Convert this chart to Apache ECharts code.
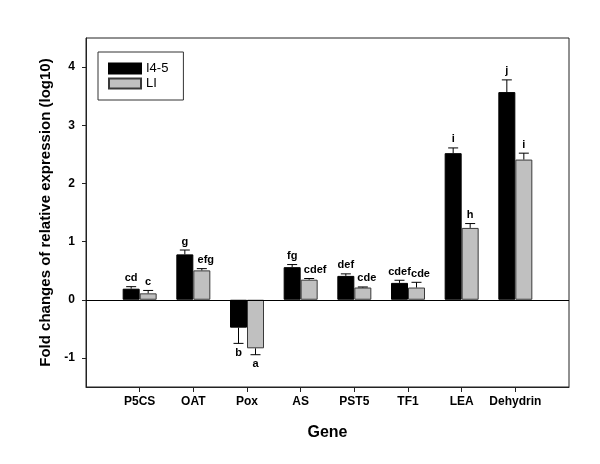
<!DOCTYPE html>
<html>
<head>
<meta charset="utf-8">
<script src="https://cdn.jsdelivr.net/npm/echarts@6/dist/echarts.min.js"></script>
<style>html,body{margin:0;padding:0;background:#fff}#c{width:600px;height:464px}</style>
</head>
<body>
<div id="c"></div>
<script>
const categories = ['P5CS', 'OAT', 'Pox', 'AS', 'PST5', 'TF1', 'LEA', 'Dehydrin'];
const i45 = [0.19, 0.78, -0.48, 0.56, 0.41, 0.29, 2.52, 3.57];
const i45Err = [0.035, 0.075, 0.27, 0.045, 0.035, 0.045, 0.09, 0.21];
const i45Letters = ['cd', 'g', 'b', 'fg', 'def', 'cdef', 'i', 'j'];
const li = [0.11, 0.505, -0.835, 0.345, 0.21, 0.21, 1.235, 2.41];
const liErr = [0.05, 0.03, 0.11, 0.02, 0.01, 0.09, 0.075, 0.11];
const liLetters = ['c', 'efg', 'a', 'cdef', 'cde', 'cde', 'h', 'i'];
const yTicks = [-1, 0, 1, 2, 3, 4];

const FONT = '"Liberation Sans", Arial, sans-serif';
const axisCats = [''].concat(categories, ['']);
const BW = 17;

function barData(vals) { return vals.map((v, i) => [i + 1, v]); }
function errData(vals, errs) { return vals.map((v, i) => [i + 1, v, errs[i]]); }
function errRender(offset, shiftLong, letters) {
  return function (params, api) {
    const idx = api.value(0), v = api.value(1), e = api.value(2);
    const base = api.coord([idx, v]);
    const end = api.coord([idx, v >= 0 ? v + e : v - e]);
    const x = base[0] + offset;
    const up = v >= 0;
    const txt = letters[params.dataIndex];
    const shift = shiftLong ? Math.max(0, (txt.length - 1) * 2) : 0;
    return {
      type: 'group',
      children: [
        { type: 'line', shape: { x1: x, y1: base[1], x2: x, y2: end[1] }, style: { stroke: '#000', lineWidth: 1 } },
        { type: 'line', shape: { x1: x - 5, y1: end[1], x2: x + 5, y2: end[1] }, style: { stroke: '#000', lineWidth: 1 } },
        { type: 'text', x: x + shift, y: end[1] + (up ? -3 : 4),
          style: { text: txt, align: 'center', verticalAlign: up ? 'bottom' : 'top',
                   font: 'bold 11px ' + FONT, fill: '#000' } }
      ]
    };
  };
}

const chart = echarts.init(document.getElementById('c'), null, { renderer: 'canvas' });
chart.setOption({
  backgroundColor: '#fff',
  animation: false,
  textStyle: { fontFamily: FONT },
  grid: { left: 86, right: 31, top: 38, bottom: 77, show: true, borderColor: '#222', borderWidth: 1, backgroundColor: 'transparent' },
  legend: {
    left: 98, top: 52, orient: 'vertical',
    data: ['I4-5', 'LI'],
    icon: 'rect',
    itemWidth: 32, itemHeight: 10, itemGap: 2,
    padding: [10, 15, 10, 10],
    borderColor: '#333', borderWidth: 1,
    textStyle: { fontFamily: FONT, fontSize: 13, color: '#000' },
    selectedMode: false
  },
  xAxis: {
    type: 'category', data: axisCats, boundaryGap: false,
    name: 'Gene', nameLocation: 'middle', nameGap: 38,
    nameTextStyle: { fontFamily: FONT, fontSize: 16, fontWeight: 'bold', color: '#000' },
    axisLine: { show: true, onZero: false, lineStyle: { color: '#222', width: 1 } },
    axisTick: { show: true, length: 5, interval: (i) => i > 0 && i < axisCats.length - 1, lineStyle: { color: '#222' } },
    axisLabel: { interval: 0, margin: 9, fontFamily: FONT, fontSize: 12, fontWeight: 'bold', color: '#000' },
    splitLine: { show: false }
  },
  yAxis: {
    type: 'value', min: -1.5, max: 4.5, interval: 0.5,
    name: 'Fold changes of relative expression (log10)', nameLocation: 'middle', nameGap: 33,
    nameTextStyle: { fontFamily: FONT, fontSize: 15, fontWeight: 'bold', color: '#000' },
    axisLine: { show: true, lineStyle: { color: '#222', width: 1 } },
    axisTick: { show: true, length: 4, customValues: yTicks, lineStyle: { color: '#222' } },
    axisLabel: { customValues: yTicks, margin: 11, fontFamily: FONT, fontSize: 12, fontWeight: 'bold', color: '#000' },
    splitLine: { show: false }
  },
  series: [
    { name: 'I4-5', type: 'bar', data: barData(i45), barWidth: BW, barGap: '0%',
      itemStyle: { color: '#000', borderColor: '#000', borderWidth: 1 },
      markLine: { silent: true, symbol: 'none', label: { show: false },
        lineStyle: { color: '#000', width: 1, type: 'solid' }, data: [{ yAxis: 0 }] } },
    { name: 'LI', type: 'bar', data: barData(li), barWidth: BW, barGap: '0%',
      itemStyle: { color: '#c0c0c0', borderColor: '#3a3a3a', borderWidth: 1 } },
    { type: 'custom', data: errData(i45, i45Err), renderItem: errRender(-BW / 2, false, i45Letters), z: 5 },
    { type: 'custom', data: errData(li, liErr), renderItem: errRender(BW / 2, true, liLetters), z: 5 }
  ]
});
</script>
</body>
</html>
